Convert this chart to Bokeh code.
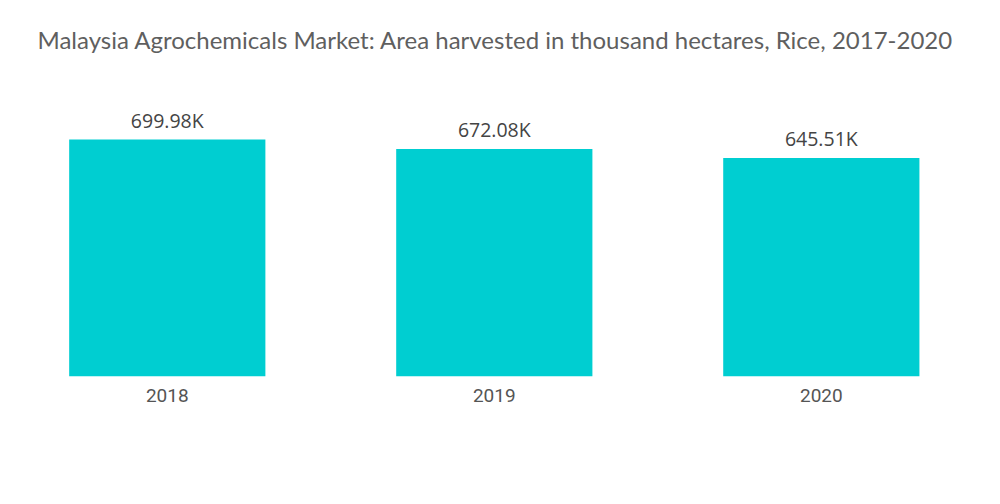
from bokeh.plotting import figure
from bokeh.models import ColumnDataSource, Range1d, FixedTicker, Title
from bokeh.core.properties import value
from bokeh.embed import file_html
from bokeh.resources import INLINE

years = ["2018", "2019", "2020"]
area_k = [699.98, 672.08, 645.51]
title_text = "Malaysia Agrochemicals Market: Area harvested in thousand hectares, Rice, 2017-2020"

idx = list(range(len(years)))
src = ColumnDataSource(dict(x=idx, top=area_k, lbl=[f"{v:.2f}K" for v in area_k]))

p = figure(width=984, height=488, output_backend="svg", toolbar_location=None,
           x_range=Range1d(-0.510, 2.499), y_range=Range1d(0, 909.7),
           min_border_left=0, min_border_right=0, min_border_top=68, min_border_bottom=112)
p.title = Title(text=title_text, align="left", offset=37, standoff=30, text_font="Lato",
                text_font_size="24px", text_font_style="normal", text_color="#5f5f5f")
p.outline_line_color = None
p.grid.grid_line_color = None
p.yaxis.visible = False
p.xaxis.ticker = FixedTicker(ticks=idx)
p.xaxis.major_label_overrides = {i: y for i, y in zip(idx, years)}
p.xaxis.axis_line_color = None
p.xaxis.major_tick_line_color = None
p.xaxis.minor_tick_line_color = None
p.xaxis.major_label_text_font = "Roboto"
p.xaxis.major_label_text_font_size = "19px"
p.xaxis.major_label_text_color = "#555555"
p.xaxis.major_label_standoff = 6

p.vbar(x="x", top="top", width=0.6, bottom=0, source=src, fill_color="#00CED1", line_color=None)
p.text(x="x", y="top", text="lbl", source=src, y_offset=-6, text_align="center",
       text_baseline="bottom", text_font=value("Open Sans"), text_font_size="19.5px",
       text_color="#444444")

open("out.html", "w").write(file_html(p, INLINE))
